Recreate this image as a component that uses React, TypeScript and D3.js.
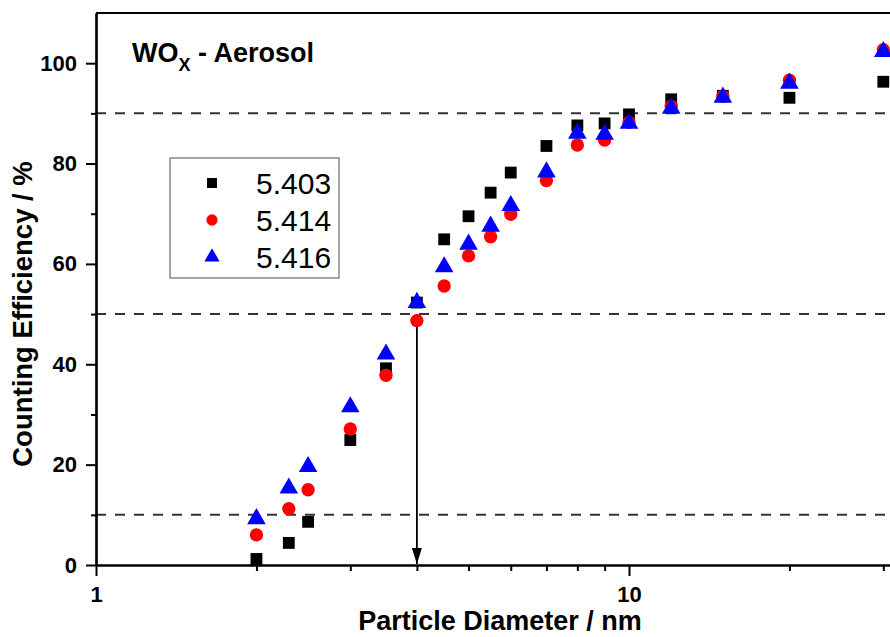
import React, {useEffect, useRef} from 'react'
import * as d3 from 'd3'

// particle diameters (nm) and counting efficiencies (%) for the three CPC units
const diameters = [2, 2.3, 2.5, 3, 3.5, 4, 4.5, 5, 5.5, 6, 7, 8, 9, 10, 12, 15, 20, 30]
const eff5403 = [1.2, 4.4, 8.6, 24.9, 39.2, 52.3, 64.9, 69.5, 74.2, 78.2, 83.5, 87.6, 88.0, 89.8, 92.8, 93.5, 93.1, 96.3]
const eff5414 = [6.0, 11.2, 15.0, 27.1, 37.8, 48.7, 55.6, 61.6, 65.4, 69.9, 76.6, 83.7, 84.7, 88.2, 91.4, 93.4, 96.6, 102.7]
const eff5416 = [9.2, 15.3, 19.6, 31.5, 42.0, 52.3, 59.4, 63.9, 67.5, 71.6, 78.3, 86.0, 85.8, 88.0, 91.0, 93.2, 96.0, 102.3]

const seriesNames = ['5.403', '5.414', '5.416']
const seriesColors = ['#000000', '#ff0000', '#0000ff']
const seriesShapes = [d3.symbolSquare, d3.symbolCircle, d3.symbolTriangle]

const xMajorTicks = [1, 10]
const xMinorTicks = [2, 3, 4, 5, 6, 7, 8, 9, 20, 30]
const yMajorTicks = [0, 20, 40, 60, 80, 100]
const yMinorTicks = [10, 30, 50, 70, 90]
const guideLevels = [10, 50, 90]
const d50 = 4

const W = 890
const H = 637
const left = 96
const bottom = 565
const top = 13
const decade = 533
const font = 'Arial, "Liberation Sans", Helvetica, sans-serif'

function App() {
    const ref = useRef<SVGSVGElement>(null)

    useEffect(() => {
        document.body.style.margin = '0'
        const svg = d3.select(ref.current)
        svg.selectAll('*').remove()

        const x = d3.scaleLog().domain([1, 40]).range([left, left + decade * Math.log10(40)])
        const y = d3.scaleLinear().domain([0, 110]).range([bottom, top])

        // dashed guide lines
        svg.append('g')
            .selectAll('line')
            .data(guideLevels)
            .join('line')
            .attr('x1', left)
            .attr('x2', W)
            .attr('y1', d => y(d))
            .attr('y2', d => y(d))
            .attr('stroke', '#333')
            .attr('stroke-width', 2)
            .attr('stroke-dasharray', '10,9')

        // arrow at d50
        svg.append('defs').append('marker')
            .attr('id', 'arrowhead')
            .attr('viewBox', '0 0 16 10')
            .attr('refX', 16)
            .attr('refY', 5)
            .attr('markerWidth', 16)
            .attr('markerHeight', 10)
            .attr('markerUnits', 'userSpaceOnUse')
            .attr('orient', 'auto')
            .append('path')
            .attr('d', 'M0,0 L16,5 L0,10 Z')
            .attr('fill', '#000')

        svg.append('line')
            .attr('x1', x(d50))
            .attr('x2', x(d50))
            .attr('y1', y(50))
            .attr('y2', y(0) - 1)
            .attr('stroke', '#000')
            .attr('stroke-width', 1.8)
            .attr('marker-end', 'url(#arrowhead)')

        // frame top line
        svg.append('line')
            .attr('x1', left)
            .attr('x2', W)
            .attr('y1', top)
            .attr('y2', top)
            .attr('stroke', '#000')
            .attr('stroke-width', 2.2)

        // axes
        const styleAxis = (g: any) => {
            g.select('.domain').attr('stroke-width', 2.2)
            g.selectAll('.tick line').attr('stroke-width', 2)
            g.selectAll('text')
                .attr('font-family', font)
                .attr('font-weight', 'bold')
                .attr('font-size', 22)
                .attr('fill', '#000')
        }

        svg.append('g')
            .attr('transform', `translate(0,${bottom})`)
            .call(d3.axisBottom(x).tickValues(xMinorTicks).tickSize(6).tickFormat(() => '').tickSizeOuter(0))
            .call(styleAxis)
        svg.append('g')
            .attr('transform', `translate(0,${bottom})`)
            .call(d3.axisBottom(x).tickValues(xMajorTicks).tickSize(11).tickPadding(10).tickFormat(d3.format('d')).tickSizeOuter(0))
            .call(styleAxis)

        svg.append('g')
            .attr('transform', `translate(${left},0)`)
            .call(d3.axisLeft(y).tickValues(yMinorTicks).tickSize(5).tickFormat(() => '').tickSizeOuter(0))
            .call(styleAxis)
        svg.append('g')
            .attr('transform', `translate(${left},0)`)
            .call(d3.axisLeft(y).tickValues(yMajorTicks).tickSize(10).tickPadding(9).tickSizeOuter(0))
            .call(styleAxis)

        // axis titles
        svg.append('text')
            .attr('x', 500)
            .attr('y', 630)
            .attr('text-anchor', 'middle')
            .attr('font-family', font)
            .attr('font-weight', 'bold')
            .attr('font-size', 27)
            .text('Particle Diameter / nm')

        svg.append('text')
            .attr('transform', 'translate(32,314) rotate(-90)')
            .attr('text-anchor', 'middle')
            .attr('font-family', font)
            .attr('font-weight', 'bold')
            .attr('font-size', 27.5)
            .text('Counting Efficiency / %')

        // panel title
        const title = svg.append('text')
            .attr('x', 132)
            .attr('y', 62)
            .attr('font-family', font)
            .attr('font-weight', 'bold')
            .attr('font-size', 27)
        title.append('tspan').text('WO')
        title.append('tspan').attr('font-size', 18).attr('dy', 9).text('X')
        title.append('tspan').attr('dy', -9).text(' - Aerosol')

        // data points
        const allSeries = [eff5403, eff5414, eff5416]
        const symbolSizes = [140, 140, 150]
        allSeries.forEach((vals, i) => {
            const sym = d3.symbol().type(seriesShapes[i]).size(symbolSizes[i])
            svg.append('g')
                .selectAll('path')
                .data(diameters.map((d, j) => [d, vals[j]]))
                .join('path')
                .attr('transform', d => `translate(${x(d[0])},${y(d[1])})`)
                .attr('d', sym)
                .attr('fill', seriesColors[i])
        })

        // legend
        const legend = svg.append('g').attr('transform', 'translate(170,158)')
        legend.append('rect')
            .attr('width', 169)
            .attr('height', 120)
            .attr('fill', '#fff')
            .attr('stroke', '#888')
            .attr('stroke-width', 1.5)
        seriesNames.forEach((name, i) => {
            const row = legend.append('g').attr('transform', `translate(0,${25 + i * 37})`)
            row.append('path')
                .attr('transform', 'translate(42,0)')
                .attr('d', d3.symbol().type(seriesShapes[i]).size(100)())
                .attr('fill', seriesColors[i])
            row.append('text')
                .attr('x', 86)
                .attr('y', 0)
                .attr('dy', '0.36em')
                .attr('font-family', font)
                .attr('font-size', 30)
                .text(name)
        })
    }, [])

    return (
        <div>
            <svg ref={ref} width={W} height={H} style={{display: 'block', background: '#fff'}}></svg>
        </div>
    )
}

export default App
